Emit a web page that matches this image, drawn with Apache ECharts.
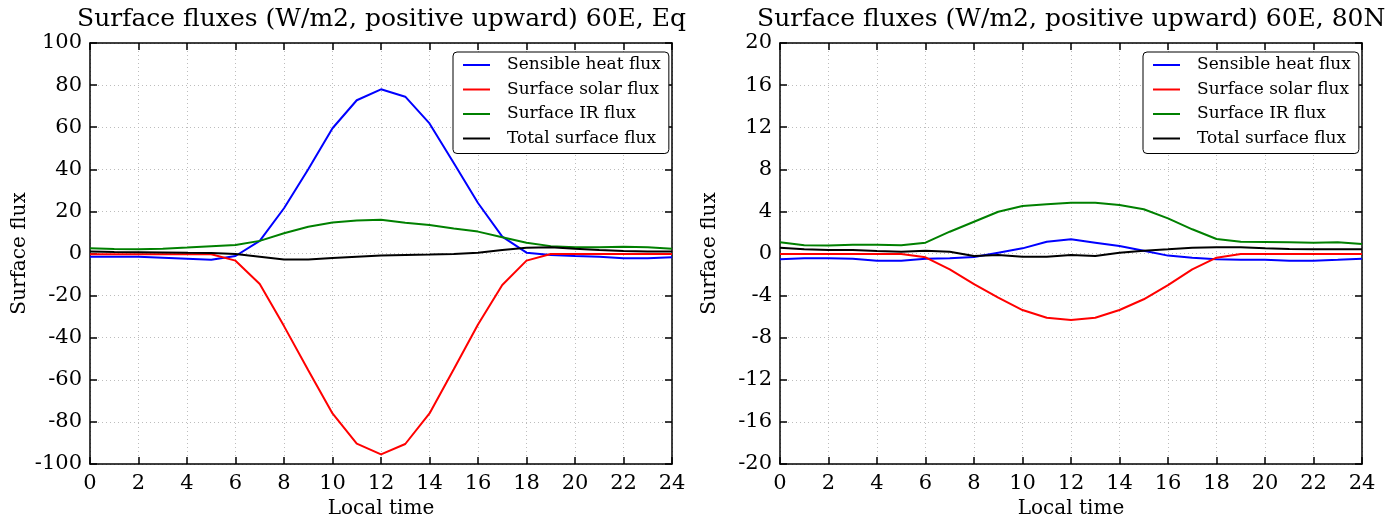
<!DOCTYPE html>
<html>
<head>
<meta charset="utf-8">
<script src="https://cdn.jsdelivr.net/npm/echarts@6/dist/echarts.min.js"></script>
<style>
  html, body { margin: 0; padding: 0; background: #fff; }
  #chart { width: 1394px; height: 520px; }
</style>
</head>
<body>
<div id="chart"></div>
<script>
// local time, hourly
const hours = [0, 1, 2, 3, 4, 5, 6, 7, 8, 9, 10, 11, 12, 13, 14, 15, 16, 17, 18, 19, 20, 21, 22, 23, 24]
const seriesNames = ['Sensible heat flux', 'Surface solar flux', 'Surface IR flux', 'Total surface flux']
const colors = ['#0000ff', '#ff0000', '#008000', '#000000']

// 60E, Eq
const eqSensible = [-1.5, -1.5, -1.5, -2, -2.5, -3, -1.2, 6, 21.5, 40, 59.5, 72.8, 78, 74.5, 61.8, 43, 24, 8, 0.4, -0.7, -1.2, -1.5, -2.3, -2.3, -1.8]
const eqSolar = [-0.3, -0.3, -0.3, -0.3, -0.3, -0.4, -3.4, -14.5, -34.5, -55.5, -76, -90.3, -95.4, -90.5, -76, -55, -33.7, -15, -3.4, -0.2, -0.2, -0.2, -0.2, -0.2, -0.2]
const eqIR = [2.5, 2.1, 2, 2.3, 2.8, 3.4, 4, 6, 9.6, 12.7, 14.7, 15.7, 16, 14.6, 13.5, 11.9, 10.4, 7.7, 5.1, 3.5, 3, 3, 3.2, 3, 2.3]
const eqTotal = [0.9, 0.7, 0.6, 0.5, 0.3, 0.2, -0.2, -1.5, -2.8, -2.8, -2.1, -1.5, -1, -0.7, -0.5, -0.2, 0.4, 1.7, 2.7, 3, 2.3, 1.7, 1.2, 1, 0.9]

// 60E, 80N
const npSensible = [-0.55, -0.45, -0.45, -0.5, -0.7, -0.7, -0.5, -0.45, -0.33, 0.08, 0.49, 1.12, 1.35, 1.03, 0.71, 0.27, -0.2, -0.4, -0.55, -0.6, -0.6, -0.68, -0.68, -0.6, -0.5]
const npSolar = [-0.05, -0.05, -0.05, -0.05, -0.05, -0.05, -0.36, -1.5, -2.9, -4.2, -5.37, -6.1, -6.32, -6.1, -5.37, -4.35, -3, -1.5, -0.4, -0.05, -0.05, -0.05, -0.05, -0.05, -0.05]
const npIR = [1.06, 0.78, 0.75, 0.84, 0.84, 0.78, 1.03, 2.07, 3.02, 3.97, 4.51, 4.67, 4.83, 4.83, 4.6, 4.2, 3.34, 2.3, 1.38, 1.12, 1.09, 1.06, 1.03, 1.06, 0.9]
const npTotal = [0.55, 0.4, 0.33, 0.33, 0.24, 0.17, 0.27, 0.17, -0.24, -0.14, -0.3, -0.3, -0.14, -0.24, 0.08, 0.27, 0.4, 0.55, 0.59, 0.59, 0.49, 0.43, 0.4, 0.4, 0.4]

const eqTicks = { min: -100, max: 100, interval: 20 }
const npTicks = { min: -20, max: 20, interval: 4 }

const font = '"DejaVu Serif", serif'
const black = '#000'

const pairs = (vals) => hours.map((h, i) => [h, vals[i]])

const makeSeries = (gridIndex, sets) =>
  sets.map((vals, index) => ({
    name: seriesNames[index],
    type: 'line',
    xAxisIndex: gridIndex * 2,
    yAxisIndex: gridIndex * 2,
    symbol: 'none',
    silent: true,
    lineStyle: { color: colors[index], width: 2 },
    itemStyle: { color: colors[index] },
    data: pairs(vals),
  }))

const tick = { show: true, inside: true, length: 7, lineStyle: { color: black, width: 1.5 } }
const line = { show: true, onZero: false, lineStyle: { color: black, width: 1.5 } }
const grid = { show: true, lineStyle: { color: '#bdbdbd', type: [1, 3], width: 1 } }
const label = { color: black, fontFamily: font, fontSize: 21 }

const xAxes = (gridIndex) => [
  {
    gridIndex, type: 'value', position: 'bottom', min: 0, max: 24, interval: 2,
    axisLine: line, axisTick: tick, splitLine: grid,
    axisLabel: { ...label, margin: 9 },
    name: 'Local time', nameLocation: 'middle', nameGap: 35,
    nameTextStyle: { color: black, fontFamily: font, fontSize: 20 },
  },
  {
    gridIndex, type: 'value', position: 'top', min: 0, max: 24, interval: 2,
    axisLine: line, axisTick: tick, splitLine: { show: false }, axisLabel: { show: false },
  },
]

const yAxes = (gridIndex, t) => [
  {
    gridIndex, type: 'value', position: 'left', ...t,
    axisLine: line, axisTick: tick, splitLine: grid,
    axisLabel: { ...label, margin: 8 },
    name: 'Surface flux', nameLocation: 'middle', nameGap: 60, nameRotate: 90,
    nameTextStyle: { color: black, fontFamily: font, fontSize: 20 },
  },
  {
    gridIndex, type: 'value', position: 'right', ...t,
    axisLine: line, axisTick: tick, splitLine: { show: false }, axisLabel: { show: false },
  },
]

const legend = (left) => ({
  left, top: 52, orient: 'vertical',
  data: seriesNames,
  icon: 'rect',
  itemWidth: 27, itemHeight: 2, itemGap: 4.5,
  padding: [3, 8, 5, 10],
  backgroundColor: '#fff', borderColor: black, borderWidth: 1, borderRadius: 4,
  selectedMode: false,
  textStyle: { color: black, fontFamily: font, fontSize: 17, lineHeight: 20, padding: [0, 0, 0, 12] },
})

const titleStyle = { color: black, fontFamily: font, fontSize: 25, fontWeight: 'normal' }

const chart = echarts.init(document.getElementById('chart'))
chart.setOption({
  animation: false,
  backgroundColor: '#fff',
  title: [
    { text: 'Surface fluxes (W/m2, positive upward) 60E, Eq', left: 77, top: 7, padding: 0, textStyle: titleStyle },
    { text: 'Surface fluxes (W/m2, positive upward) 60E, 80N', left: 757, top: 7, padding: 0, textStyle: titleStyle },
  ],
  legend: [legend(453), legend(1143)],
  grid: [
    { left: 90, top: 43, width: 582, height: 421, outerBoundsMode: 'none' },
    { left: 780, top: 43, width: 582, height: 421, outerBoundsMode: 'none' },
  ],
  xAxis: [...xAxes(0), ...xAxes(1)],
  yAxis: [...yAxes(0, eqTicks), ...yAxes(1, npTicks)],
  series: [
    ...makeSeries(0, [eqSensible, eqSolar, eqIR, eqTotal]),
    ...makeSeries(1, [npSensible, npSolar, npIR, npTotal]),
  ],
})
</script>
</body>
</html>
